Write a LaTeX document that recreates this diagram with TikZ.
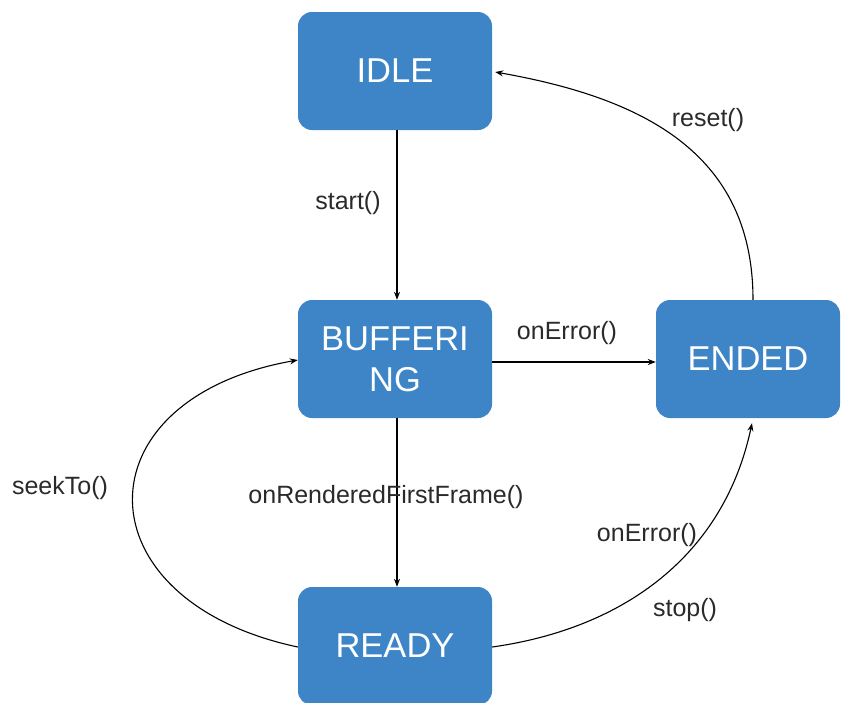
\documentclass[tikz,border=0pt]{standalone}
\usepackage{fontspec}
\setmainfont{Liberation Sans}
\usetikzlibrary{arrows.meta}
\definecolor{stateblue}{HTML}{3D85C6}
\definecolor{labelgray}{HTML}{2A2A2A}
\begin{document}
\begin{tikzpicture}[x=1pt,y=1pt,
  state/.style={draw=none, fill=stateblue, rounded corners=14pt,
    minimum width=194pt, minimum height=118pt, inner sep=0pt,
    text=white, font=\fontsize{34.5}{41}\selectfont, align=center},
  trans/.style={draw=black, line width=1.1pt, -{Stealth[length=8pt,width=6pt]}},
  lbl/.style={text=labelgray, font=\fontsize{25}{30}\selectfont, inner sep=0pt}]
\useasboundingbox (0,0) rectangle (841,-702);

% states
\node[state] (idle) at (395,-71) {IDLE};
\node[state] (buf) at (395,-359) {BUFFERI\\NG};
\node[state, minimum width=184pt] (ended) at (748,-359) {ENDED};
\node[state] (ready) at (395,-646) {READY};

% transitions
\draw[trans] ([xshift=2pt]idle.south) -- ([xshift=2pt]buf.north);
\draw[trans] ([yshift=-3pt]buf.east) -- ([yshift=-3pt]ended.west);
\draw[trans] ([xshift=2pt]buf.south) -- ([xshift=2pt]ready.north);
\draw[trans] ([xshift=5pt]ended.north) to[out=90,in=350,looseness=1.1] ([xshift=3pt,yshift=-1pt]idle.east);
\draw[trans] ([yshift=-1pt]ready.east) to[out=8,in=258,looseness=1.0] ([xshift=4pt,yshift=-5pt]ended.south);
\draw[trans] ([yshift=-1pt]ready.west) to[out=168,in=190,looseness=2.0] ([yshift=-1pt]buf.west);

% transition labels
\node[lbl] (lstart) at (348,-203) {start()};
\node[lbl] (lreset) at (708,-120) {reset()};
\node[lbl] (lerr1) at (567,-333) {onError()};
\node[lbl] (lseek) at (60,-488) {seekTo()};
\node[lbl] (lrend) at (386,-497) {onRenderedFirstFrame()};
\node[lbl] (lerr2) at (647,-535) {onError()};
\node[lbl] (lstop) at (685,-610) {stop()};
\end{tikzpicture}
\end{document}
